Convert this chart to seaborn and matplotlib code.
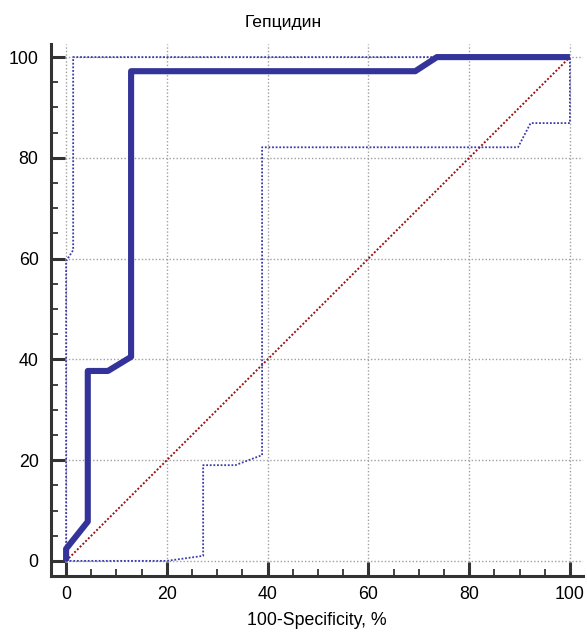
import matplotlib
matplotlib.use("Agg")
import matplotlib.pyplot as plt
from matplotlib.ticker import MultipleLocator
import numpy as np
import pandas as pd
import seaborn as sns

# ROC curve for hepcidin (points in %)
roc_fpr = [0, 0, 4.3, 4.3, 8.3, 12.9, 12.9, 69.3, 73.6, 100]
roc_sens = [0, 2.4, 7.8, 37.7, 37.7, 40.5, 97.2, 97.2, 100, 100]

# Upper confidence bound
upper_fpr = [0, 0, 1.4, 1.4, 100]
upper_sens = [0, 59.5, 61.7, 100, 100]

# Lower confidence bound
lower_fpr = [0, 20.0, 27.2, 27.2, 33.6, 38.9, 38.9, 89.7, 92.2, 100, 100]
lower_sens = [0, 0, 1.0, 19.0, 19.0, 21.0, 82.1, 82.1, 86.9, 86.9, 100]

# Reference diagonal
diag = [0, 100]

title = "Гепцидин"
xlabel = "100-Specificity, %"

sns.set_theme(style="white")
plt.rcParams["font.family"] = ["Liberation Sans", "DejaVu Sans"]

fig = plt.figure(figsize=(5.87, 6.34), dpi=100)
ax = fig.add_axes([51 / 587, 1 - 576 / 634, 532 / 587, 532 / 634])

roc_df = pd.DataFrame({"fpr": roc_fpr, "sens": roc_sens})
up_df = pd.DataFrame({"fpr": upper_fpr, "sens": upper_sens})
lo_df = pd.DataFrame({"fpr": lower_fpr, "sens": lower_sens})
diag_df = pd.DataFrame({"fpr": diag, "sens": diag})

ci_color = "#3a3aa8"
dot = (0, (1, 1))

sns.lineplot(data=diag_df, x="fpr", y="sens", ax=ax, sort=False, estimator=None,
             color="#a01010", lw=1.4, linestyle=dot)
sns.lineplot(data=up_df, x="fpr", y="sens", ax=ax, sort=False, estimator=None,
             color=ci_color, lw=1.3, linestyle=dot)
sns.lineplot(data=lo_df, x="fpr", y="sens", ax=ax, sort=False, estimator=None,
             color=ci_color, lw=1.3, linestyle=dot)
sns.lineplot(data=roc_df, x="fpr", y="sens", ax=ax, sort=False, estimator=None,
             color="#333399", lw=4.4)
ax.lines[-1].set_solid_joinstyle("round")
ax.lines[-1].set_solid_capstyle("butt")

ax.set_xlim(-3, 102.6)
ax.set_ylim(-3, 102.6)

ax.xaxis.set_major_locator(MultipleLocator(20))
ax.yaxis.set_major_locator(MultipleLocator(20))
ax.xaxis.set_minor_locator(MultipleLocator(5))
ax.yaxis.set_minor_locator(MultipleLocator(5))

ax.grid(True, which="major", color="#a0a0a0", linestyle=(0, (1, 1.5)), linewidth=1.0)
ax.grid(False, which="minor")
ax.set_axisbelow(True)

for side in ("top", "right"):
    ax.spines[side].set_visible(False)
for side in ("left", "bottom"):
    ax.spines[side].set_visible(True)
    ax.spines[side].set_color("#333333")
    ax.spines[side].set_linewidth(2.2)

ax.tick_params(which="major", direction="in", length=10, width=2.2, color="#333333",
               labelsize=12.8, labelcolor="black", pad=7, left=True, bottom=True)
ax.tick_params(which="minor", direction="in", length=5, width=1.3, color="#333333",
               left=True, bottom=True)
ax.tick_params(axis="y", pad=9)

ax.set_title(title, fontsize=12.6, pad=12, color="black", x=(283 - 51) / 532)
ax.set_xlabel(xlabel, fontsize=12.8, labelpad=7, color="black")
ax.set_ylabel("")

fig.savefig("out.png", dpi=100)
